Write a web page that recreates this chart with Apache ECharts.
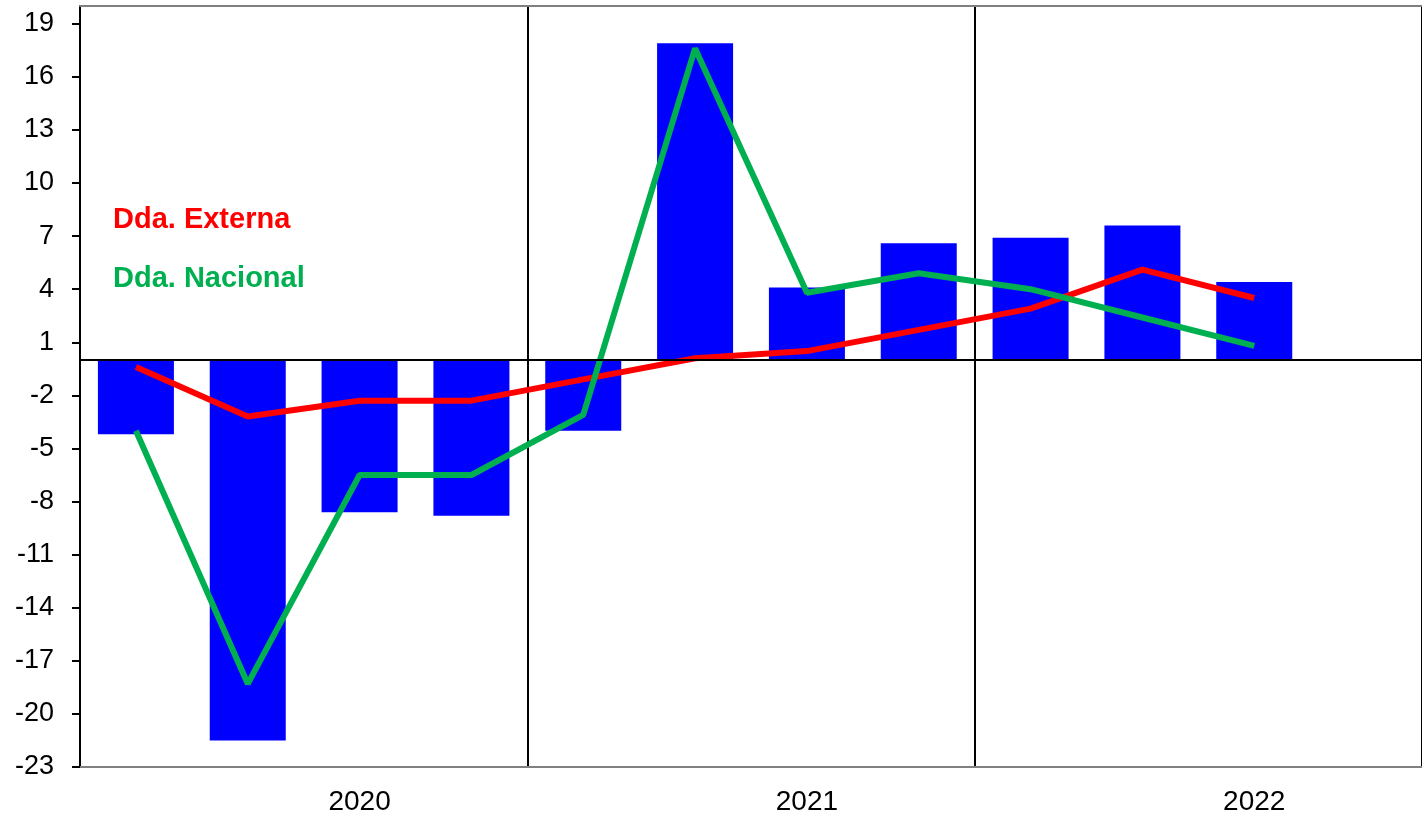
<!DOCTYPE html>
<html>
<head>
<meta charset="utf-8">
<script src="https://cdn.jsdelivr.net/npm/echarts@6/dist/echarts.min.js"></script>
<style>
  html, body { margin: 0; padding: 0; background: #fff; }
  #chart { width: 1422px; height: 816px; }
</style>
</head>
<body>
<div id="chart"></div>
<script>
// quarters 2020Q1 .. 2022Q4 (last one empty)
const quarters = ['2020T1', '2020T2', '2020T3', '2020T4', '2021T1', '2021T2', '2021T3', '2021T4', '2022T1', '2022T2', '2022T3', '2022T4'];
const yearLabels = { 2: '2020', 6: '2021', 10: '2022' };
const barValues = [-4.2, -21.5, -8.6, -8.8, -4.0, 17.9, 4.1, 6.6, 6.9, 7.6, 4.4, null];
const externa = [-0.4, -3.2, -2.3, -2.3, -1.1, 0.1, 0.5, 1.7, 2.9, 5.1, 3.5, null];
const nacional = [-4.0, -18.3, -6.5, -6.5, -3.1, 17.6, 3.8, 4.9, 4.0, 2.4, 0.8, null];
const yTicks = [-23, -20, -17, -14, -11, -8, -5, -2, 1, 4, 7, 10, 13, 16, 19];

const font = 'Liberation Sans, Arial, sans-serif';
const chart = echarts.init(document.getElementById('chart'));

chart.setOption({
  backgroundColor: '#fff',
  animation: false,
  grid: { left: 80, right: 0, top: 6, bottom: 48 },
  xAxis: [
    {
      type: 'category',
      data: quarters,
      axisLine: { onZero: false, lineStyle: { color: '#808080', width: 2 } },
      axisTick: { show: false },
      axisLabel: {
        interval: 0, margin: 21, color: '#000', fontSize: 28, fontFamily: font,
        formatter: (v, i) => yearLabels[i] || ''
      },
      splitLine: {
        show: true,
        interval: (i) => i === 4 || i === 8,
        lineStyle: { color: '#000', width: 2 }
      }
    },
    {
      type: 'category',
      position: 'top',
      data: quarters,
      axisLine: { onZero: false, lineStyle: { color: '#808080', width: 2 } },
      axisTick: { show: false },
      axisLabel: { show: false }
    }
  ],
  yAxis: {
    type: 'value',
    min: -23,
    max: 20,
    axisLine: { show: true, lineStyle: { color: '#000', width: 2 } },
    axisTick: { show: true, length: 8, customValues: yTicks, lineStyle: { color: '#000', width: 2 } },
    axisLabel: { customValues: yTicks, margin: 26, color: '#000', fontSize: 27, fontFamily: font },
    splitLine: { show: false }
  },
  series: [
    {
      type: 'bar',
      data: barValues,
      barWidth: 76,
      itemStyle: { color: '#0000FF' },
      markLine: {
        silent: true,
        symbol: 'none',
        label: { show: false },
        lineStyle: { color: '#000', width: 2, type: 'solid' },
        data: [{ yAxis: 0 }]
      }
    },
    {
      name: 'Dda. Externa',
      type: 'line',
      data: externa,
      showSymbol: false,
      lineStyle: { color: '#FF0000', width: 6 },
      itemStyle: { color: '#FF0000' }
    },
    {
      name: 'Dda. Nacional',
      type: 'line',
      data: nacional,
      showSymbol: false,
      lineStyle: { color: '#00B050', width: 6 },
      itemStyle: { color: '#00B050' }
    }
  ],
  graphic: [
    {
      type: 'text', left: 113, top: 205,
      style: { text: 'Dda. Externa', fill: '#FF0000', font: 'bold 29px ' + font }
    },
    {
      type: 'text', left: 113, top: 264,
      style: { text: 'Dda. Nacional', fill: '#00B050', font: 'bold 29px ' + font }
    }
  ]
});
</script>
</body>
</html>
